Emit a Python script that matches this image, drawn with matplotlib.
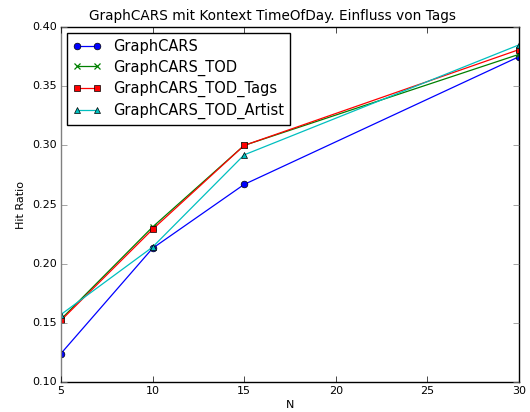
import matplotlib
matplotlib.use("Agg")
import matplotlib.pyplot as plt

plt.style.use("classic")

N = [5, 10, 15, 30]
graphcars = [0.124, 0.213, 0.267, 0.375]
graphcars_tod = [0.153, 0.231, 0.300, 0.377]
graphcars_tod_tags = [0.152, 0.229, 0.300, 0.381]
graphcars_tod_artist = [0.157, 0.214, 0.292, 0.385]
labels = ["GraphCARS", "GraphCARS_TOD", "GraphCARS_TOD_Tags", "GraphCARS_TOD_Artist"]

fig = plt.figure(figsize=(5.3, 4.12), dpi=100)
ax = fig.add_axes([0.115, 0.073, 0.864, 0.861])
kw = dict(markersize=4.8, linewidth=0.9)
ax.plot(N, graphcars, "b-o", label=labels[0], **kw)
ax.plot(N, graphcars_tod, "g-x", label=labels[1], markeredgewidth=0.9, **kw)
ax.plot(N, graphcars_tod_tags, "r-s", label=labels[2], **kw)
ax.plot(N, graphcars_tod_artist, "c-^", label=labels[3], **kw)
ax.set_xlim(5, 30)
ax.set_ylim(0.10, 0.40)
ax.set_xlabel("N", fontsize=8, labelpad=3)
ax.set_ylabel("Hit Ratio", fontsize=8, labelpad=4)
ax.set_title("GraphCARS mit Kontext TimeOfDay. Einfluss von Tags", fontsize=9.8, x=0.463)
ax.tick_params(labelsize=8, pad=3)
ax.spines["left"].set_color("#808080")
ax.tick_params(axis="y", color="#808080")
ax.legend(loc="upper left", fontsize=10.5, numpoints=2, borderaxespad=0.4,
          labelspacing=0.38)
fig.savefig("out.png", dpi=100)
